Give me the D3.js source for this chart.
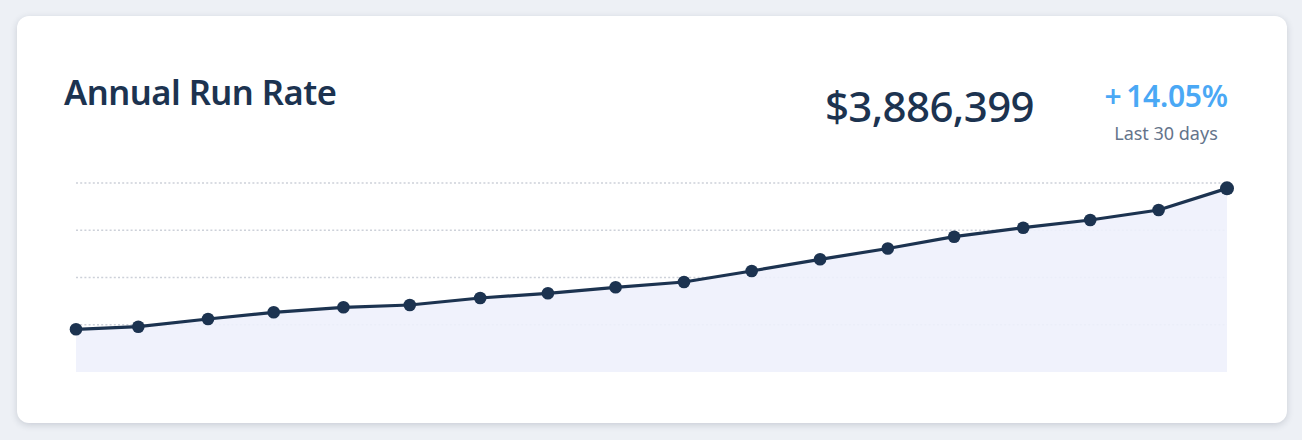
<!DOCTYPE html>
<html lang="en">
<head>
<meta charset="utf-8">
<title>Annual Run Rate</title>
<script src="https://d3js.org/d3.v7.min.js"></script>
<style>
  body {
    margin: 0;
    background: #edf0f5;
    width: 1302px;
    height: 440px;
    overflow: hidden;
    font-family: "Noto Sans", "Open Sans", sans-serif;
  }
  #card {
    position: absolute;
    left: 17px;
    top: 16px;
    width: 1270px;
    height: 407px;
    background: #fff;
    border-radius: 12px;
    box-shadow: 0 2px 7px rgba(40, 50, 70, 0.18);
  }
  #chart {
    position: absolute;
    left: 0;
    top: 0;
  }
  .grid line {
    stroke: #cdd1d9;
    stroke-width: 1.5;
    stroke-dasharray: 2 2.2;
  }
</style>
</head>
<body>
<div id="card"></div>
<div id="chart"></div>

<script>
// data: day offset and run rate (dollars)
const dayOffset = [0, 0.92, 1.95, 2.92, 3.95, 4.93, 5.97, 6.97, 7.97, 8.98,
                   9.98, 10.99, 11.99, 12.97, 13.99, 14.98, 15.99, 17];
const runRate = [903700, 958700, 1121700, 1263500, 1369300, 1418000, 1566100, 1665600,
                 1792600, 1904800, 2137600, 2385200, 2613800, 2863500, 3054000, 3216900,
                 3428600, 3886399];
const gridTicks = [1000000, 2000000, 3000000, 4000000];

const title = "Annual Run Rate";
const headline = "$3,886,399";
const changeSign = "+";
const changeValue = "14.05%";
const changeLabel = "Last 30 days";

const width = 1302;
const height = 440;

const svg = d3.select("#chart")
  .append("svg")
  .attr("width", width)
  .attr("height", height);

const x = d3.scaleLinear()
  .domain([0, 17])
  .range([76, 1227]);

const y = d3.scaleLinear()
  .domain([0, 4000000])
  .range([372, 183]);

// dotted horizontal grid
svg.append("g")
  .attr("class", "grid")
  .selectAll("line")
  .data(gridTicks)
  .join("line")
  .attr("x1", x(0))
  .attr("x2", x(17))
  .attr("y1", d => y(d))
  .attr("y2", d => y(d));

const area = d3.area()
  .x((d, i) => x(dayOffset[i]))
  .y0(y(0))
  .y1(d => y(d));

svg.append("path")
  .datum(runRate)
  .attr("d", area)
  .attr("fill", "#eef1fc")
  .attr("fill-opacity", 0.9);

const line = d3.line()
  .x((d, i) => x(dayOffset[i]))
  .y(d => y(d));

svg.append("path")
  .datum(runRate)
  .attr("d", line)
  .attr("fill", "none")
  .attr("stroke", "#1c3350")
  .attr("stroke-width", 3.2)
  .attr("stroke-linejoin", "round");

svg.append("g")
  .selectAll("circle")
  .data(runRate)
  .join("circle")
  .attr("cx", (d, i) => x(dayOffset[i]))
  .attr("cy", d => y(d))
  .attr("r", (d, i) => i === runRate.length - 1 ? 7 : 6.3)
  .attr("fill", "#1c3350");

// header texts
svg.append("text")
  .attr("x", 64)
  .attr("y", 105)
  .attr("fill", "#1c3350")
  .attr("font-size", 34.5)
  .attr("font-weight", 600)
  .attr("letter-spacing", -0.5)
  .text(title);

svg.append("text")
  .attr("x", 1034)
  .attr("y", 122)
  .attr("text-anchor", "end")
  .attr("fill", "#1c3350")
  .attr("font-size", 42)
  .attr("font-weight", 500)
  .attr("letter-spacing", -0.6)
  .text(headline);

const pct = svg.append("text")
  .attr("x", 1166)
  .attr("y", 107)
  .attr("text-anchor", "middle")
  .attr("fill", "#4aa8f5")
  .attr("font-size", 30)
  .attr("font-weight", 600)
  .attr("letter-spacing", -0.3);
pct.append("tspan").text(changeSign);
pct.append("tspan").attr("dx", 5).text(changeValue);

svg.append("text")
  .attr("x", 1166)
  .attr("y", 140)
  .attr("text-anchor", "middle")
  .attr("fill", "#64748b")
  .attr("font-size", 18)
  .text(changeLabel);
</script>
</body>
</html>
